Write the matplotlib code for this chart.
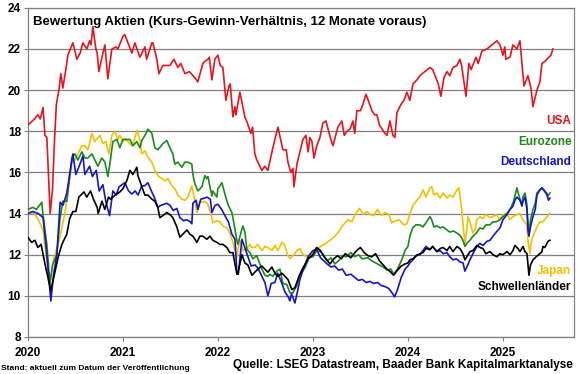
import numpy as np
import matplotlib.pyplot as plt

plt.rcParams['font.family'] = ['Liberation Sans', 'DejaVu Sans']

# forward P/E ratios, dates as decimal years
usa = [(2020.00, 18.3), (2020.07, 18.6), (2020.105, 18.8), (2020.13, 18.6), (2020.16, 19.15),
       (2020.18, 17.8), (2020.20, 17.7), (2020.235, 14.0), (2020.26, 15.2), (2020.28, 17.5),
       (2020.30, 19.3), (2020.33, 20.1), (2020.347, 20.8), (2020.368, 20.1), (2020.40, 21.0),
       (2020.421, 21.7), (2020.474, 22.3), (2020.516, 21.5), (2020.55, 21.8), (2020.579, 22.3),
       (2020.621, 22.0), (2020.65, 22.4), (2020.665, 22.2), (2020.684, 23.1), (2020.716, 22.0),
       (2020.73, 21.8), (2020.747, 20.9), (2020.79, 21.8), (2020.811, 22.2), (2020.842, 20.55),
       (2020.884, 22.0), (2020.93, 22.1), (2020.947, 22.0), (2021.0, 22.6), (2021.02, 22.7),
       (2021.095, 21.8), (2021.126, 22.3), (2021.179, 21.6), (2021.232, 22.1), (2021.25, 21.5),
       (2021.305, 22.3), (2021.316, 22.3), (2021.358, 21.5), (2021.379, 20.8), (2021.421, 21.2),
       (2021.495, 21.2), (2021.537, 21.5), (2021.579, 21.1), (2021.61, 21.3), (2021.653, 20.8),
       (2021.70, 20.9), (2021.758, 20.6), (2021.789, 20.4), (2021.842, 21.3), (2021.863, 21.4),
       (2021.895, 21.5), (2021.91, 21.6), (2021.937, 20.5), (2021.968, 21.5), (2022.0, 21.7),
       (2022.025, 21.2), (2022.053, 21.1), (2022.084, 19.5), (2022.116, 20.2), (2022.13, 20.3),
       (2022.158, 18.7), (2022.18, 19.2), (2022.19, 18.8), (2022.232, 19.9), (2022.284, 18.7),
       (2022.31, 18.4), (2022.347, 17.9), (2022.365, 18.2), (2022.389, 16.9), (2022.41, 16.6),
       (2022.463, 16.1), (2022.495, 16.3), (2022.526, 16.1), (2022.589, 17.4), (2022.632, 18.2),
       (2022.684, 17.1), (2022.72, 17.1), (2022.737, 16.5), (2022.768, 16.0), (2022.79, 16.2),
       (2022.80, 15.3), (2022.832, 16.4), (2022.863, 17.0), (2022.895, 17.6), (2022.926, 17.8),
       (2022.95, 17.0), (2022.968, 17.7), (2022.99, 17.5), (2023.011, 16.7), (2023.042, 17.3),
       (2023.074, 17.7), (2023.105, 18.4), (2023.137, 18.5), (2023.189, 17.6), (2023.211, 17.3),
       (2023.263, 18.2), (2023.305, 18.5), (2023.33, 17.8), (2023.358, 18.0), (2023.39, 18.1),
       (2023.421, 18.5), (2023.44, 17.9), (2023.463, 19.0), (2023.50, 19.0), (2023.526, 19.3),
       (2023.558, 19.8), (2023.575, 19.6), (2023.621, 19.0), (2023.65, 18.8), (2023.674, 18.8),
       (2023.70, 18.3), (2023.758, 17.9), (2023.779, 17.8), (2023.811, 18.5), (2023.842, 17.8),
       (2023.863, 17.7), (2023.884, 18.9), (2023.926, 19.3), (2023.958, 19.5), (2023.989, 19.9),
       (2024.02, 19.5), (2024.053, 20.3), (2024.095, 20.5), (2024.126, 20.7), (2024.15, 20.8),
       (2024.232, 21.1), (2024.26, 21.0), (2024.295, 20.6), (2024.32, 20.3), (2024.347, 19.7),
       (2024.379, 20.6), (2024.411, 20.9), (2024.44, 20.7), (2024.474, 21.1), (2024.516, 21.2),
       (2024.547, 21.5), (2024.565, 21.2), (2024.611, 19.7), (2024.642, 21.3), (2024.665, 21.0),
       (2024.716, 21.6), (2024.74, 21.3), (2024.779, 21.9), (2024.832, 22.0), (2024.884, 22.2),
       (2024.937, 22.4), (2024.968, 22.2), (2025.0, 21.7), (2025.02, 22.1), (2025.03, 21.5),
       (2025.074, 21.6), (2025.105, 22.2), (2025.147, 22.0), (2025.179, 22.4), (2025.221, 20.2),
       (2025.263, 20.7), (2025.295, 20.1), (2025.316, 19.2), (2025.358, 20.0), (2025.389, 20.4),
       (2025.411, 21.3), (2025.442, 21.4), (2025.463, 21.5), (2025.505, 21.7), (2025.526, 22.0)]

eurozone = [(2020.00, 14.2), (2020.053, 14.3), (2020.09, 14.2), (2020.147, 14.55), (2020.158, 14.0),
            (2020.20, 12.5), (2020.232, 10.6), (2020.26, 11.5), (2020.305, 12.0), (2020.337, 13.7),
            (2020.368, 14.6), (2020.41, 14.6), (2020.463, 16.7), (2020.495, 16.9), (2020.526, 16.6),
            (2020.568, 17.0), (2020.60, 16.7), (2020.632, 16.7), (2020.674, 16.9), (2020.705, 16.6),
            (2020.737, 16.3), (2020.779, 16.7), (2020.811, 16.5), (2020.842, 15.8), (2020.863, 16.4),
            (2020.895, 17.5), (2020.937, 17.6), (2020.968, 17.2), (2021.0, 17.6), (2021.074, 17.6),
            (2021.105, 17.3), (2021.147, 17.5), (2021.179, 17.2), (2021.2, 17.55), (2021.232, 17.8),
            (2021.263, 18.1), (2021.305, 17.9), (2021.337, 17.2), (2021.368, 17.1), (2021.421, 17.4),
            (2021.463, 17.55), (2021.495, 17.2), (2021.526, 16.9), (2021.547, 16.4), (2021.579, 16.5),
            (2021.621, 16.25), (2021.653, 16.5), (2021.684, 16.5), (2021.726, 16.4), (2021.737, 15.9),
            (2021.758, 15.45), (2021.789, 15.1), (2021.832, 15.3), (2021.863, 15.85), (2021.884, 15.7),
            (2021.895, 15.8), (2021.937, 14.85), (2021.947, 15.1), (2021.989, 14.8), (2022.0, 15.2),
            (2022.042, 15.5), (2022.074, 14.95), (2022.105, 14.45), (2022.147, 14.05), (2022.158, 13.8),
            (2022.2, 12.7), (2022.21, 12.5), (2022.253, 13.25), (2022.263, 13.4), (2022.284, 13.1),
            (2022.305, 12.25), (2022.337, 12.1), (2022.368, 11.8), (2022.41, 11.95), (2022.421, 11.8),
            (2022.463, 11.3), (2022.495, 11.0), (2022.526, 10.95), (2022.547, 11.05), (2022.579, 10.95),
            (2022.621, 11.2), (2022.653, 11.3), (2022.684, 10.6), (2022.726, 10.55), (2022.758, 10.15),
            (2022.789, 10.15), (2022.832, 10.5), (2022.863, 11.0), (2022.92, 11.4), (2022.96, 11.85),
            (2023.0, 11.9), (2023.04, 12.2), (2023.08, 12.15), (2023.15, 11.7), (2023.19, 11.85),
            (2023.23, 11.55), (2023.27, 11.7), (2023.31, 11.95), (2023.35, 11.9), (2023.40, 12.1),
            (2023.44, 11.9), (2023.48, 12.0), (2023.52, 11.8), (2023.58, 11.85), (2023.62, 11.7),
            (2023.66, 11.6), (2023.70, 11.5), (2023.74, 11.4), (2023.78, 11.25), (2023.82, 11.3),
            (2023.85, 11.05), (2023.89, 11.3), (2023.93, 11.7), (2023.97, 12.2), (2024.0, 12.4),
            (2024.021, 12.9), (2024.05, 13.3), (2024.084, 13.45), (2024.126, 13.45), (2024.158, 13.35),
            (2024.19, 13.55), (2024.232, 13.85), (2024.25, 13.7), (2024.274, 13.35), (2024.305, 13.4),
            (2024.34, 13.3), (2024.37, 13.35), (2024.411, 13.2), (2024.44, 13.1), (2024.48, 13.15),
            (2024.516, 13.05), (2024.547, 12.95), (2024.579, 12.7), (2024.60, 12.4), (2024.62, 12.55),
            (2024.653, 12.7), (2024.684, 12.9), (2024.72, 13.05), (2024.758, 13.3), (2024.79, 13.25),
            (2024.82, 13.45), (2024.863, 13.45), (2024.895, 13.6), (2024.93, 13.6), (2024.968, 13.7),
            (2025.0, 13.85), (2025.042, 14.0), (2025.074, 14.2), (2025.105, 14.5), (2025.126, 14.85),
            (2025.147, 15.25), (2025.16, 15.0), (2025.18, 14.7), (2025.20, 14.35), (2025.21, 14.8),
            (2025.232, 15.0), (2025.25, 14.5), (2025.263, 13.55), (2025.274, 13.05), (2025.29, 13.7),
            (2025.316, 14.2), (2025.34, 14.5), (2025.358, 15.0), (2025.389, 15.15), (2025.41, 15.25),
            (2025.442, 15.05), (2025.46, 15.0), (2025.474, 14.85), (2025.495, 15.0)]

deutschland = [(2020.00, 14.0), (2020.053, 14.1), (2020.11, 14.0), (2020.16, 13.8), (2020.20, 12.0),
               (2020.242, 9.75), (2020.27, 11.0), (2020.305, 12.0), (2020.34, 14.55), (2020.37, 14.4),
               (2020.41, 15.0), (2020.474, 16.9), (2020.505, 15.9), (2020.54, 16.3), (2020.58, 16.8),
               (2020.60, 15.9), (2020.65, 16.3), (2020.68, 15.8), (2020.72, 16.1), (2020.75, 15.1),
               (2020.79, 15.4), (2020.82, 14.6), (2020.86, 13.9), (2020.895, 15.1), (2020.93, 14.9),
               (2020.96, 15.3), (2021.02, 15.5), (2021.06, 15.1), (2021.095, 14.95), (2021.13, 15.1),
               (2021.16, 14.9), (2021.20, 15.35), (2021.23, 15.35), (2021.263, 15.5), (2021.30, 15.1),
               (2021.33, 14.8), (2021.368, 14.3), (2021.40, 14.4), (2021.463, 14.5), (2021.495, 14.4),
               (2021.53, 14.15), (2021.568, 14.25), (2021.60, 13.8), (2021.64, 13.65), (2021.67, 13.7),
               (2021.71, 13.6), (2021.726, 13.5), (2021.737, 14.5), (2021.77, 14.65), (2021.79, 14.2),
               (2021.82, 14.7), (2021.86, 14.75), (2021.884, 14.8), (2021.92, 14.7), (2021.937, 14.05),
               (2021.97, 14.4), (2022.0, 14.45), (2022.04, 14.2), (2022.074, 13.9), (2022.11, 13.6),
               (2022.147, 13.0), (2022.18, 12.75), (2022.20, 11.1), (2022.215, 11.05), (2022.253, 12.75),
               (2022.29, 12.25), (2022.316, 11.9), (2022.35, 11.45), (2022.39, 11.5), (2022.421, 11.35),
               (2022.463, 10.95), (2022.495, 10.65), (2022.526, 10.0), (2022.545, 10.3), (2022.56, 10.6),
               (2022.60, 10.65), (2022.63, 11.1), (2022.67, 10.65), (2022.705, 10.2), (2022.74, 9.95),
               (2022.758, 9.75), (2022.775, 10.1), (2022.811, 9.65), (2022.842, 10.3), (2022.863, 10.8),
               (2022.90, 11.3), (2022.95, 11.9), (2023.0, 12.2), (2023.04, 12.25), (2023.08, 11.85),
               (2023.15, 11.55), (2023.19, 11.4), (2023.23, 11.45), (2023.27, 11.25), (2023.31, 11.3),
               (2023.35, 11.0), (2023.40, 11.05), (2023.44, 10.9), (2023.48, 10.75), (2023.52, 10.8),
               (2023.56, 10.65), (2023.60, 10.7), (2023.64, 10.6), (2023.68, 10.65), (2023.72, 10.5),
               (2023.76, 10.45), (2023.80, 10.35), (2023.84, 10.1), (2023.86, 9.95), (2023.89, 10.3),
               (2023.93, 10.9), (2023.97, 11.3), (2024.0, 11.45), (2024.02, 11.6), (2024.053, 11.75),
               (2024.095, 12.0), (2024.126, 12.0), (2024.158, 12.2), (2024.19, 12.4), (2024.232, 12.25),
               (2024.26, 12.4), (2024.305, 12.15), (2024.34, 12.2), (2024.37, 12.05), (2024.411, 12.1),
               (2024.44, 11.9), (2024.474, 11.75), (2024.51, 11.8), (2024.547, 11.65), (2024.58, 11.6),
               (2024.60, 11.2), (2024.62, 11.4), (2024.653, 11.75), (2024.684, 12.05), (2024.726, 12.4),
               (2024.758, 12.55), (2024.79, 12.45), (2024.832, 12.65), (2024.863, 12.7), (2024.895, 12.9),
               (2024.93, 13.1), (2024.968, 13.3), (2025.0, 13.7), (2025.042, 13.95), (2025.074, 14.2),
               (2025.105, 14.35), (2025.126, 14.65), (2025.147, 14.8), (2025.179, 14.65), (2025.20, 14.4),
               (2025.211, 14.6), (2025.232, 14.8), (2025.253, 14.2), (2025.263, 13.2), (2025.274, 12.9),
               (2025.29, 13.35), (2025.316, 13.85), (2025.34, 14.2), (2025.358, 14.9), (2025.389, 15.15),
               (2025.41, 15.25), (2025.44, 15.1), (2025.463, 14.9), (2025.48, 14.65), (2025.495, 14.75)]

japan = [(2020.00, 14.1), (2020.07, 14.0), (2020.11, 13.7), (2020.16, 13.2), (2020.232, 10.5),
         (2020.27, 11.8), (2020.32, 12.5), (2020.39, 14.0), (2020.42, 15.0), (2020.463, 16.5),
         (2020.495, 16.6), (2020.568, 17.3), (2020.60, 17.3), (2020.632, 17.1), (2020.674, 17.9),
         (2020.705, 17.5), (2020.758, 17.8), (2020.79, 17.4), (2020.82, 17.5), (2020.853, 16.9),
         (2020.884, 17.8), (2020.916, 18.0), (2020.947, 17.6), (2020.968, 17.8), (2021.0, 17.5),
         (2021.021, 17.65), (2021.053, 17.5), (2021.095, 17.3), (2021.126, 17.65), (2021.147, 18.05),
         (2021.179, 17.6), (2021.2, 16.9), (2021.232, 17.05), (2021.263, 16.75), (2021.305, 16.5),
         (2021.337, 16.1), (2021.368, 15.85), (2021.41, 15.7), (2021.442, 15.6), (2021.474, 15.7),
         (2021.516, 15.35), (2021.547, 15.2), (2021.579, 14.9), (2021.621, 14.7), (2021.653, 14.65),
         (2021.684, 14.8), (2021.726, 15.35), (2021.758, 14.6), (2021.779, 14.05), (2021.811, 14.6),
         (2021.842, 14.55), (2021.863, 14.6), (2021.895, 14.45), (2021.937, 13.8), (2021.947, 13.55),
         (2021.989, 13.65), (2022.021, 13.6), (2022.053, 13.4), (2022.095, 13.3), (2022.126, 13.05),
         (2022.158, 12.6), (2022.20, 11.85), (2022.21, 12.25), (2022.232, 12.7), (2022.253, 12.4),
         (2022.263, 12.2), (2022.305, 12.3), (2022.337, 12.5), (2022.358, 12.35), (2022.389, 12.35),
         (2022.421, 12.5), (2022.463, 12.2), (2022.495, 12.4), (2022.526, 12.35), (2022.568, 12.2),
         (2022.60, 12.45), (2022.632, 12.2), (2022.674, 12.6), (2022.705, 12.45), (2022.737, 11.95),
         (2022.758, 11.8), (2022.789, 11.95), (2022.832, 12.2), (2022.863, 12.3), (2022.90, 12.0),
         (2022.95, 11.85), (2023.0, 12.1), (2023.08, 12.4), (2023.12, 12.5), (2023.18, 12.7),
         (2023.23, 12.9), (2023.27, 13.1), (2023.31, 13.4), (2023.37, 13.7), (2023.41, 13.6),
         (2023.45, 14.0), (2023.49, 14.25), (2023.53, 13.95), (2023.57, 14.1), (2023.60, 13.95),
         (2023.64, 13.9), (2023.68, 14.2), (2023.72, 13.9), (2023.76, 14.05), (2023.80, 13.95),
         (2023.83, 13.55), (2023.87, 13.65), (2023.91, 13.7), (2023.926, 13.6), (2023.958, 13.45),
         (2023.99, 13.5), (2024.021, 14.0), (2024.053, 14.4), (2024.095, 14.65), (2024.126, 14.8),
         (2024.158, 15.15), (2024.19, 14.8), (2024.232, 15.25), (2024.25, 15.3), (2024.274, 14.9),
         (2024.305, 15.0), (2024.34, 14.75), (2024.37, 15.0), (2024.411, 14.75), (2024.44, 14.9),
         (2024.474, 14.8), (2024.516, 15.15), (2024.537, 15.25), (2024.558, 14.5), (2024.579, 13.5),
         (2024.60, 12.55), (2024.62, 13.2), (2024.632, 13.85), (2024.653, 13.6), (2024.684, 13.05),
         (2024.705, 13.2), (2024.726, 13.7), (2024.758, 13.85), (2024.789, 13.75), (2024.82, 13.95),
         (2024.863, 13.8), (2024.895, 13.85), (2024.93, 13.95), (2024.968, 13.7), (2025.0, 13.95),
         (2025.042, 14.0), (2025.074, 13.7), (2025.105, 13.85), (2025.147, 13.95), (2025.179, 14.0),
         (2025.21, 13.7), (2025.253, 13.45), (2025.263, 12.7), (2025.284, 12.05), (2025.295, 12.55),
         (2025.316, 12.9), (2025.358, 13.35), (2025.389, 13.6), (2025.42, 13.6), (2025.463, 13.85),
         (2025.495, 14.0)]

schwellen = [(2020.00, 12.85), (2020.04, 12.6), (2020.074, 12.7), (2020.105, 12.35), (2020.14, 12.5),
             (2020.18, 11.55), (2020.242, 10.25), (2020.28, 11.05), (2020.32, 11.9), (2020.358, 12.5),
             (2020.41, 13.0), (2020.44, 13.75), (2020.474, 14.1), (2020.505, 14.1), (2020.537, 14.8),
             (2020.59, 15.05), (2020.62, 14.8), (2020.66, 15.1), (2020.69, 14.7), (2020.73, 14.3),
             (2020.74, 14.0), (2020.78, 14.6), (2020.81, 14.2), (2020.85, 14.8), (2020.87, 14.7),
             (2020.92, 14.9), (2020.968, 15.05), (2021.0, 15.2), (2021.042, 15.6), (2021.074, 16.1),
             (2021.105, 15.9), (2021.147, 16.25), (2021.158, 15.85), (2021.2, 15.3), (2021.232, 14.9),
             (2021.263, 14.9), (2021.305, 14.7), (2021.337, 14.6), (2021.368, 14.3), (2021.389, 13.8),
             (2021.421, 13.9), (2021.463, 14.05), (2021.495, 13.95), (2021.526, 13.8), (2021.568, 13.35),
             (2021.60, 12.85), (2021.632, 13.0), (2021.674, 13.2), (2021.705, 13.0), (2021.737, 12.9),
             (2021.779, 12.6), (2021.811, 12.9), (2021.842, 12.9), (2021.884, 12.75), (2021.916, 12.9),
             (2021.947, 12.7), (2021.989, 12.6), (2022.021, 12.5), (2022.053, 12.5), (2022.095, 12.35),
             (2022.126, 12.1), (2022.158, 12.1), (2022.20, 11.05), (2022.21, 11.1), (2022.253, 12.0),
             (2022.284, 11.6), (2022.316, 11.5), (2022.358, 11.0), (2022.389, 11.15), (2022.421, 11.3),
             (2022.463, 11.45), (2022.495, 11.3), (2022.526, 11.15), (2022.568, 11.4), (2022.60, 11.1),
             (2022.632, 10.95), (2022.674, 11.1), (2022.705, 10.95), (2022.737, 10.8), (2022.779, 10.3),
             (2022.811, 10.4), (2022.842, 10.8), (2022.863, 11.05), (2022.90, 11.4), (2022.95, 11.8),
             (2023.0, 12.0), (2023.04, 12.35), (2023.08, 12.2), (2023.12, 11.9), (2023.18, 11.55),
             (2023.22, 11.8), (2023.26, 11.95), (2023.30, 11.8), (2023.34, 12.05), (2023.40, 11.85),
             (2023.46, 12.2), (2023.50, 12.35), (2023.54, 12.1), (2023.58, 11.95), (2023.62, 11.9),
             (2023.66, 12.05), (2023.70, 11.7), (2023.74, 11.5), (2023.78, 11.3), (2023.82, 11.15),
             (2023.85, 11.0), (2023.89, 11.25), (2023.93, 11.45), (2023.97, 11.55), (2024.0, 11.6),
             (2024.021, 11.75), (2024.053, 11.8), (2024.074, 11.9), (2024.126, 12.05), (2024.158, 12.1),
             (2024.19, 12.3), (2024.232, 12.25), (2024.26, 12.4), (2024.305, 12.15), (2024.34, 12.3),
             (2024.37, 12.35), (2024.411, 12.2), (2024.44, 12.4), (2024.474, 12.15), (2024.516, 12.4),
             (2024.547, 12.3), (2024.579, 12.05), (2024.60, 11.75), (2024.62, 11.9), (2024.653, 12.15),
             (2024.684, 12.2), (2024.726, 12.45), (2024.758, 12.35), (2024.79, 12.3), (2024.82, 12.05),
             (2024.863, 12.15), (2024.895, 12.0), (2024.937, 11.9), (2024.968, 12.05), (2025.0, 12.0),
             (2025.042, 12.15), (2025.074, 12.0), (2025.105, 12.2), (2025.126, 12.45), (2025.158, 12.3),
             (2025.18, 12.15), (2025.211, 12.4), (2025.232, 12.15), (2025.253, 12.05), (2025.263, 11.55),
             (2025.274, 11.0), (2025.29, 11.5), (2025.316, 11.75), (2025.35, 11.9), (2025.389, 12.05),
             (2025.41, 12.15), (2025.421, 12.4), (2025.44, 12.35), (2025.463, 12.55), (2025.474, 12.65),
             (2025.495, 12.7)]

years = [2020, 2021, 2022, 2023, 2024, 2025]
yticks = [8, 10, 12, 14, 16, 18, 20, 22, 24]

series = [(usa, '#e8141c', 'USA'),
          (japan, '#f5c000', 'Japan'),
          (eurozone, '#1a8a1a', 'Eurozone'),
          (deutschland, '#1414d2', 'Deutschland'),
          (schwellen, '#000000', 'Schwellenländer')]

fig = plt.figure(figsize=(5.8, 3.74), dpi=100)
ax = fig.add_axes([0.048, 0.099, 0.942, 0.88])

for data, col, name in series:
    d = np.array(data)
    ax.plot(d[:, 0], d[:, 1], color=col, lw=1.2, zorder=3)

ax.set_xlim(2020, 2025.75)
ax.set_ylim(8, 24)
ax.set_yticks(yticks)
ax.set_xticks(years)
ax.set_xticklabels([str(y) for y in years], fontsize=8.5, fontweight='bold')
ax.set_yticklabels([str(y) for y in yticks], fontsize=8.5, fontweight='bold')
ax.grid(axis='y', color='#808080', lw=0.9)
ax.set_axisbelow(True)
for s in ax.spines.values():
    s.set_color('#808080')
    s.set_linewidth(0.9)
ax.tick_params(axis='x', length=3, color='#808080', pad=4)
ax.tick_params(axis='y', length=3, color='#808080', pad=2)

ax.text(0.009, 0.975, 'Bewertung Aktien (Kurs-Gewinn-Verhältnis, 12 Monate voraus)',
        transform=ax.transAxes, fontsize=9.5, fontweight='bold', va='top', ha='left')

# series labels at right side
labels = [('USA', '#e8141c', 18.5), ('Eurozone', '#1a8a1a', 17.5),
          ('Deutschland', '#1414d2', 16.5), ('Japan', '#f5c000', 11.2),
          ('Schwellenländer', '#000000', 10.45)]
for txt, col, yv in labels:
    ax.text(0.995, yv, txt, color=col, fontsize=8.5, fontweight='bold',
            ha='right', va='center', transform=ax.get_yaxis_transform())

fig.text(0.002, 0.006, 'Stand: aktuell zum Datum der Veröffentlichung', fontsize=6,
         fontweight='bold', ha='left', va='bottom')
fig.text(0.988, 0.008, 'Quelle: LSEG Datastream, Baader Bank Kapitalmarktanalyse', fontsize=8.5,
         fontweight='bold', ha='right', va='bottom')

fig.savefig('out.png', dpi=100)
